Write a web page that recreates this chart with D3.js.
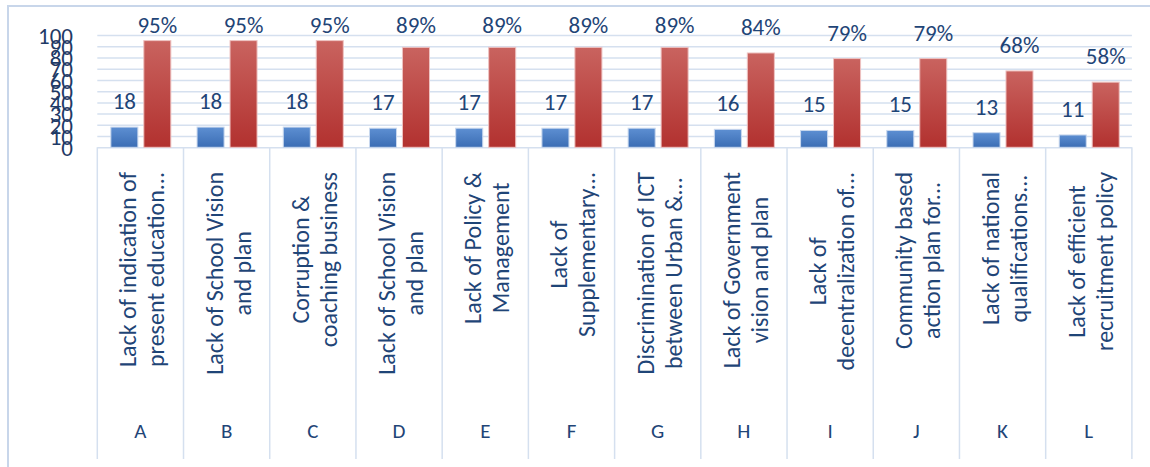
<!DOCTYPE html>
<html>
<head>
<meta charset="utf-8">
<script src="https://cdn.jsdelivr.net/npm/d3@7"></script>
<style>
  body { margin: 0; background: #fff; }
  svg { display: block; }
  text { font-family: Carlito, Calibri, Lato, sans-serif; }
</style>
</head>
<body>
<div id="chart"></div>
<script>
// categories (letter + two-line label)
var letters = ['A','B','C','D','E','F','G','H','I','J','K','L'];
var labels = [
  ['Lack of indication of', 'present education...'],
  ['Lack of School Vision', 'and plan'],
  ['Corruption &', 'coaching business'],
  ['Lack of School Vision', 'and plan'],
  ['Lack of Policy &', 'Management'],
  ['Lack of', 'Supplementary...'],
  ['Discrimination of ICT', 'between Urban &...'],
  ['Lack of Government', 'vision and plan'],
  ['Lack of', 'decentralization of...'],
  ['Community based', 'action plan for...'],
  ['Lack of national', 'qualifications...'],
  ['Lack of efficient', 'recruitment policy']
];
// series
var counts  = [18, 18, 18, 17, 17, 17, 17, 16, 15, 15, 13, 11];
var percent = [95, 95, 95, 89, 89, 89, 89, 84, 79, 79, 68, 58];
var yTicks = [0, 10, 20, 30, 40, 50, 60, 70, 80, 90, 100];

var W = 1150, H = 467;
var plotLeft = 97.3, plotRight = 1131.9, plotTop = 35, plotBase = 147.3, tableBottom = 459;
var txt = '#1f4577', grid = '#d5e0ef';

var svg = d3.select('#chart').append('svg')
    .attr('width', W)
    .attr('height', H);

var defs = svg.append('defs');
function grad(id, c1, c2) {
  var g = defs.append('linearGradient').attr('id', id)
      .attr('x1', 0).attr('y1', 0).attr('x2', 0).attr('y2', 1);
  g.append('stop').attr('offset', '0%').attr('stop-color', c1);
  g.append('stop').attr('offset', '100%').attr('stop-color', c2);
}
grad('gBlue', '#5d8fd2', '#3b6db4');
grad('gRed', '#c9635f', '#b2312f');

// outer border
svg.append('rect')
    .attr('x', 8).attr('y', 6)
    .attr('width', W).attr('height', H)
    .style('fill', 'none')
    .style('stroke', '#c8d6ea')
    .style('stroke-width', 2);

var x = d3.scaleBand()
    .domain(d3.range(letters.length))
    .range([plotLeft, plotRight])
    .padding(0);

var bw = x.bandwidth();
var x1 = d3.scaleBand()
    .domain(['count', 'pct'])
    .range([0.157 * bw, 0.853 * bw])
    .paddingInner(0.18);

var y = d3.scaleLinear()
    .domain([0, 100])
    .range([plotBase, plotTop]);

// gridlines
var gAxis = d3.axisLeft(y).tickValues(yTicks).tickSize(-(plotRight - plotLeft)).tickFormat('');
var gGrid = svg.append('g').attr('transform', 'translate(' + plotLeft + ',0)').call(gAxis);
gGrid.select('.domain').remove();
gGrid.selectAll('line').style('stroke', grid).style('stroke-width', 1.5);

// y tick labels (they overlap, as in the original)
var yAxis = d3.axisLeft(y).tickValues(yTicks).tickSize(0).tickPadding(0);
var gy = svg.append('g').attr('transform', 'translate(73,0)').call(yAxis);
gy.select('.domain').remove();
gy.selectAll('text')
    .attr('dy', '0.36em')
    .style('font-size', '23px')
    .style('font-family', 'Carlito, Calibri, Lato, sans-serif')
    .style('fill', '#1f3a66');

// category separators down through the label table
var edges = d3.range(letters.length + 1).map(function(i) {
  return i < letters.length ? x(i) : x(i - 1) + bw;
});
svg.append('g').selectAll('line').data(edges).enter().append('line')
    .attr('x1', function(d) { return d; })
    .attr('x2', function(d) { return d; })
    .attr('y1', plotBase)
    .attr('y2', tableBottom)
    .style('stroke', grid)
    .style('stroke-width', 1.5);

// bars
var groups = svg.append('g').selectAll('g').data(letters).enter().append('g')
    .attr('transform', function(d, i) { return 'translate(' + x(i) + ',0)'; });

groups.append('rect')
    .attr('x', x1('count'))
    .attr('width', x1.bandwidth())
    .attr('y', function(d, i) { return y(counts[i]); })
    .attr('height', function(d, i) { return plotBase - y(counts[i]); })
    .style('fill', 'url(#gBlue)')
    .style('stroke', '#c9d8ee')
    .style('stroke-width', 1);

groups.append('rect')
    .attr('x', x1('pct'))
    .attr('width', x1.bandwidth())
    .attr('y', function(d, i) { return y(percent[i]); })
    .attr('height', function(d, i) { return plotBase - y(percent[i]); })
    .style('fill', 'url(#gRed)')
    .style('stroke', '#eec3c2')
    .style('stroke-width', 1);

// value labels
groups.append('text')
    .attr('x', x1('count') + x1.bandwidth() / 2)
    .attr('y', function(d, i) { return y(counts[i]) - 18; })
    .attr('text-anchor', 'middle')
    .style('font-size', '23px')
    .style('fill', txt)
    .text(function(d, i) { return counts[i]; });

groups.append('text')
    .attr('x', x1('pct') + x1.bandwidth() / 2)
    .attr('y', function(d, i) { return Math.max(y(percent[i]) - 18, 33); })
    .attr('text-anchor', 'middle')
    .style('font-size', '23px')
    .style('fill', txt)
    .text(function(d, i) { return percent[i] + '%'; });

// rotated category labels
var lab = groups.append('g')
    .attr('transform', 'translate(' + (bw / 2) + ',172) rotate(-90)');
lab.each(function(d, i) {
  var g = d3.select(this);
  var t = g.selectAll('text').data(labels[i]).enter().append('text')
      .attr('y', function(s, j) { return -4 + 28 * j; })
      .attr('text-anchor', 'middle')
      .style('font-size', '24px')
      .style('fill', txt)
      .text(function(s) { return s; });
  var maxLen = 0;
  t.each(function() { maxLen = Math.max(maxLen, this.getComputedTextLength()); });
  t.attr('x', -maxLen / 2);
});

// letter row
groups.append('text')
    .attr('x', bw / 2)
    .attr('y', 438)
    .attr('text-anchor', 'middle')
    .style('font-size', '21px')
    .style('fill', txt)
    .text(function(d) { return d; });
</script>
</body>
</html>
